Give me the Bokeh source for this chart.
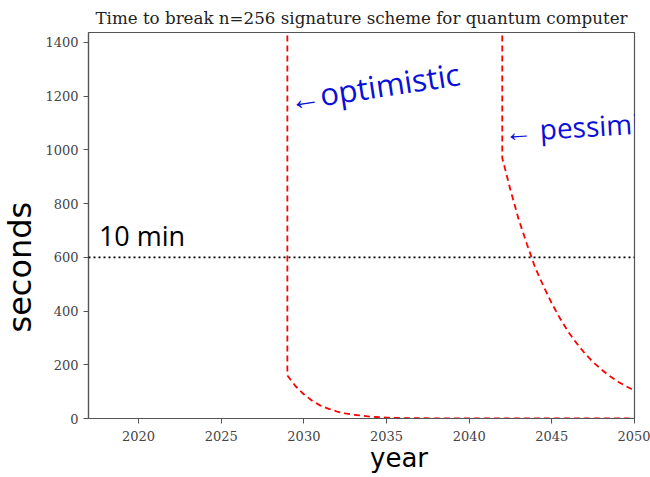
from bokeh.plotting import figure
from bokeh.models import Range1d, Span, Label, FixedTicker
from bokeh.embed import file_html
from bokeh.resources import INLINE

# Optimistic estimate (seconds to break, by year)
opt_years = [2029, 2029, 2029.5, 2030, 2030.5, 2031, 2031.5, 2032, 2032.5, 2033, 2034, 2035, 2036, 2038, 2042, 2050]
opt_secs = [1500, 160, 120, 90, 66, 48, 36, 26, 19, 14, 7, 3, 1.5, 0.5, 0, 0]

# Pessimistic estimate
pes_years = [2042, 2042, 2042.5, 2043, 2043.5, 2044, 2044.5, 2045, 2045.5, 2046, 2046.5, 2047, 2047.5, 2048, 2048.5, 2049, 2049.5, 2050]
pes_secs = [1500, 970, 850, 740, 648, 560, 492, 428, 372, 322, 280, 242, 210, 182, 158, 137, 120, 104]

threshold = 600
x_ticks = [2020, 2025, 2030, 2035, 2040, 2045, 2050]
y_ticks = [0, 200, 400, 600, 800, 1000, 1200, 1400]

serif = "DejaVu Serif"

p = figure(width=650, height=477, output_backend="svg", toolbar_location=None,
           title="Time to break n=256 signature scheme for quantum computer",
           x_range=Range1d(2016.97, 2050), y_range=Range1d(0, 1437),
           min_border_left=88, min_border_right=16, min_border_top=32, min_border_bottom=59)

p.title.text_font = serif
p.title.text_font_style = "normal"
p.title.text_font_size = "16.7px"
p.title.align = "center"
p.title.text_color = "#222222"

p.xgrid.visible = False
p.ygrid.visible = False
p.outline_line_color = "#555555"
p.outline_line_width = 1.2

for ax in (p.xaxis, p.yaxis):
    ax.axis_line_color = "#555555"
    ax.axis_line_width = 1.2
    ax.major_tick_line_color = "#555555"
    ax.major_tick_out = 5
    ax.major_tick_in = 0
    ax.minor_tick_line_color = None
    ax.major_label_text_font = serif
    ax.major_label_text_font_size = "13px"
    ax.major_label_text_color = "#444444"

p.xaxis.major_label_standoff = 7
p.xaxis.ticker = FixedTicker(ticks=x_ticks)
p.yaxis.ticker = FixedTicker(ticks=y_ticks)

p.add_layout(Span(location=threshold, dimension="width", line_color="black",
                  line_dash="2 3", line_width=1.6))

p.line(opt_years, opt_secs, line_color="red", line_dash="6 4", line_width=1.8)
p.line(pes_years, pes_secs, line_color="red", line_dash="6 4", line_width=1.8)

hand = "Open Sans"
blue = "#0a10d8"
p.add_layout(Label(x=2029.3, y=1112, text="\u2190optimistic", text_font=hand,
                   text_font_size="31px", text_color=blue, angle=0.15))
p.add_layout(Label(x=2042.2, y=1000, text="\u2190 pessimi", text_font=hand,
                   text_font_size="28px", text_color=blue, angle=0.06))
p.add_layout(Label(x=2017.6, y=614, text="10 min", text_font=hand,
                   text_font_size="27px", text_color="black"))
p.add_layout(Label(x=2013.95, y=320, text="seconds", text_font="DejaVu Sans",
                   text_font_size="32px", text_color="black", angle=1.5708), "left")
p.add_layout(Label(x=2034.0, y=-204, text="year", text_font="DejaVu Sans",
                   text_font_size="26px", text_color="black"), "below")

open("out.html", "w").write(file_html(p, INLINE))
